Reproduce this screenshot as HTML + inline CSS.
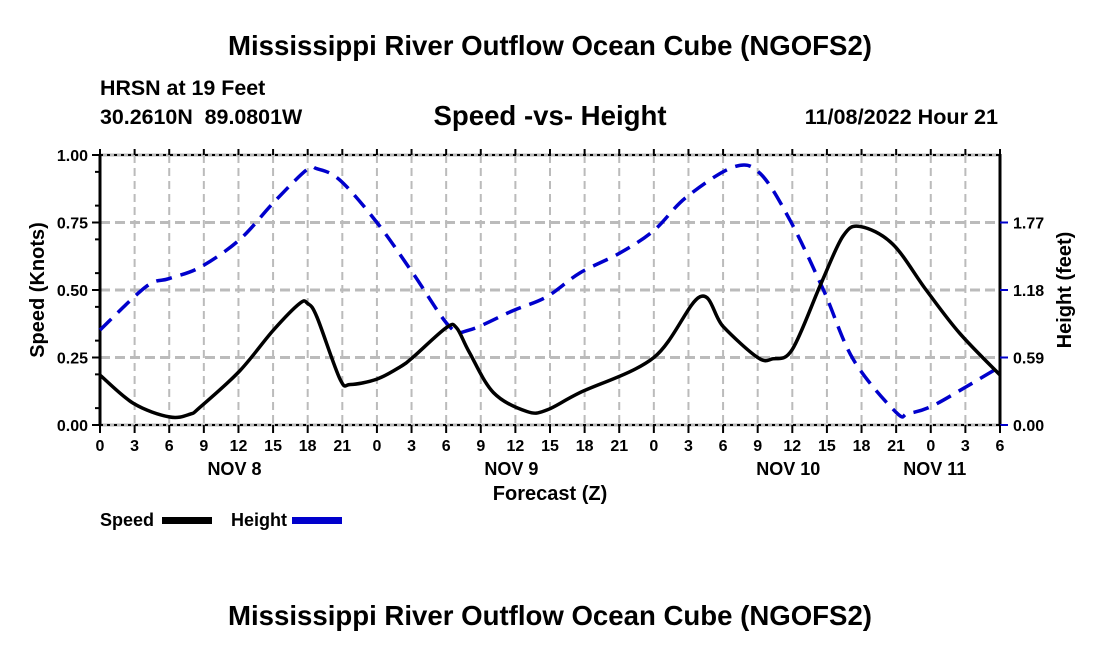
<!DOCTYPE html>
<html><head><meta charset="utf-8"><style>
body{margin:0;background:#fff;}
svg{display:block;font-family:"Liberation Sans",Arial,sans-serif;}
</style></head><body>
<svg id="c" width="1100" height="650" viewBox="0 0 1100 650">
<text x="550" y="55" text-anchor="middle" font-size="27.6" font-weight="bold">Mississippi River Outflow Ocean Cube (NGOFS2)</text>
<text x="100" y="95" font-size="21.4" font-weight="bold">HRSN at 19 Feet</text>
<text x="100" y="124" font-size="21.4" font-weight="bold" xml:space="preserve">30.2610N  89.0801W</text>
<text x="550" y="125" text-anchor="middle" font-size="27.6" font-weight="bold">Speed -vs- Height</text>
<text x="998" y="124" text-anchor="end" font-size="21.6" font-weight="bold">11/08/2022 Hour 21</text>
<g id="grid"></g>
<g id="axes"></g>
<g id="series"></g>
<text x="550" y="500" text-anchor="middle" font-size="20" font-weight="bold">Forecast (Z)</text>
<text transform="translate(44,290) rotate(-90)" text-anchor="middle" font-size="20" font-weight="bold">Speed (Knots)</text>
<text transform="translate(1071,290) rotate(-90)" text-anchor="middle" font-size="20" font-weight="bold">Height (feet)</text>
<g>
<text x="100" y="526" font-size="18" font-weight="bold">Speed</text>
<rect x="162" y="517" width="50" height="7" fill="#000"/>
</g>
<g>
<text x="231" y="526" font-size="18" font-weight="bold">Height</text>
<rect x="292" y="517" width="50" height="7" fill="#00c"/>
</g>
<text x="550" y="625" text-anchor="middle" font-size="27.6" font-weight="bold">Mississippi River Outflow Ocean Cube (NGOFS2)</text>
</svg>
<script>
const speedHours=[0,2.9,6,7.8,8.7,12.1,15,17.3,18,18.8,20.8,21.7,24,26,27.1,30,30.9,32,34.1,37,38.7,41.6,48,52,54,57,58.3,60,62.5,64.4,65.9,68.7,71.6,74.5,78];
const speedValues=[0.185,0.08,0.03,0.04,0.067,0.20,0.35,0.45,0.45,0.40,0.17,0.15,0.17,0.215,0.25,0.36,0.36,0.27,0.12,0.05,0.055,0.12,0.25,0.475,0.365,0.25,0.245,0.28,0.525,0.70,0.735,0.67,0.50,0.34,0.185];
const heightHours=[0,4,6,8.7,12.1,15,17.9,18.8,20.8,24,27.1,30.3,32,35.8,38.7,41.6,45,48,50.8,54.9,57.2,59.8,62.7,65.3,69,70,72,75,78];
const heightValues=[0.83,1.21,1.28,1.38,1.62,1.94,2.23,2.24,2.14,1.77,1.33,0.86,0.83,1.00,1.12,1.33,1.50,1.70,1.99,2.255,2.20,1.79,1.18,0.57,0.11,0.10,0.16,0.33,0.51];
const speedTicks=["0.00","0.25","0.50","0.75","1.00"];
const heightTicks=["0.00","0.59","1.18","1.77"];
const hourLabels=["0","3","6","9","12","15","18","21"];
const dayLabels=["NOV 8","NOV 9","NOV 10","NOV 11"];

const NS="http://www.w3.org/2000/svg";
const X0=100,X1=1000,Y0=425,Y1=155,HMAX=78,HFT=2.36;
const xs=h=>X0+(X1-X0)*h/HMAX;
const ys=v=>Y0-(Y0-Y1)*v;
const yh=f=>Y0-(Y0-Y1)*f/HFT;
function mk(tag,attrs,parent){const e=document.createElementNS(NS,tag);for(const k in attrs)e.setAttribute(k,attrs[k]);parent.appendChild(e);return e;}
const grid=document.getElementById('grid'),axes=document.getElementById('axes'),ser=document.getElementById('series');
for(let h=3;h<HMAX;h+=3){
  const l=mk('line',{x1:xs(h),y1:Y1,x2:xs(h),y2:Y0,stroke:'#bbb','stroke-width':2,'stroke-dasharray':'8 5'},grid);
  
  
}
speedTicks.forEach(t=>{const v=parseFloat(t);if(v>0&&v<1){
  const l=mk('line',{x1:X0,y1:ys(v),x2:X1,y2:ys(v),stroke:'#bbb','stroke-width':3,'stroke-dasharray':'10 5'},grid);
  
  
}});
mk('line',{x1:X0,y1:Y1,x2:X1,y2:Y1,stroke:'#bbb','stroke-width':3},axes);
mk('line',{x1:X0,y1:Y0,x2:X1,y2:Y0,stroke:'#bbb','stroke-width':3},axes);
mk('line',{x1:X0,y1:Y1,x2:X1,y2:Y1,stroke:'#000','stroke-width':2,'stroke-dasharray':'3 4'},axes);
mk('line',{x1:X0,y1:Y0,x2:X1,y2:Y0,stroke:'#000','stroke-width':2,'stroke-dasharray':'3 4'},axes);
mk('line',{x1:X0,y1:Y1-1,x2:X0,y2:Y0+1,stroke:'#000','stroke-width':3},axes);
mk('line',{x1:X1,y1:Y1-1,x2:X1,y2:Y0+1,stroke:'#000','stroke-width':3},axes);
speedTicks.forEach(t=>{const v=parseFloat(t);
  mk('line',{x1:X0-8,y1:ys(v),x2:X0,y2:ys(v),stroke:'#000','stroke-width':2},axes);
  const tx=mk('text',{x:X0-12,y:ys(v)+6,'text-anchor':'end','font-size':16,'font-weight':'bold'},axes);tx.textContent=t;
  
  
});
for(let v=0.0625;v<1;v+=0.125){mk('line',{x1:X0-5,y1:ys(v),x2:X0,y2:ys(v),stroke:'#000','stroke-width':2},axes);}
heightTicks.forEach(t=>{const f=parseFloat(t);
  mk('line',{x1:X1,y1:yh(f),x2:X1+8,y2:yh(f),stroke:'#00c','stroke-width':2},axes);
  const tx=mk('text',{x:X1+13,y:yh(f)+6,'font-size':16,'font-weight':'bold'},axes);tx.textContent=t;
  
  
});
for(let h=0;h<=HMAX;h+=3){
  mk('line',{x1:xs(h),y1:Y0,x2:xs(h),y2:Y0+8,stroke:'#000','stroke-width':2},axes);
  mk('line',{x1:xs(h),y1:Y1,x2:xs(h),y2:Y1-6,stroke:'#000','stroke-width':2},axes);
  const tx=mk('text',{x:xs(h),y:451,'text-anchor':'middle','font-size':16,'font-weight':'bold'},axes);tx.textContent=hourLabels[(h%24)/3];
  
  
}
dayLabels.forEach((d,i)=>{
  const tx=mk('text',{x:(i===3?xs(72)+4:xs(i*24+12)-4),y:475,'text-anchor':'middle','font-size':18,'font-weight':'bold'},axes);
  tx.textContent=d;
  
  
});
function path(px,py){
  let d=`M${px[0]},${py[0]}`;
  for(let i=0;i<px.length-1;i++){
    const p0=i>0?i-1:i,p3=i+2<px.length?i+2:i+1;
    const c1x=px[i]+(px[i+1]-px[p0])/6,c1y=py[i]+(py[i+1]-py[p0])/6;
    const c2x=px[i+1]-(px[p3]-px[i])/6,c2y=py[i+1]-(py[p3]-py[i])/6;
    d+=` C${c1x},${c1y} ${c2x},${c2y} ${px[i+1]},${py[i+1]}`;
  }
  return d;
}
const hp=mk('path',{d:path(heightHours.map(xs),heightValues.map(yh)),fill:'none',stroke:'#00c','stroke-width':3.5,'stroke-dasharray':'16 9'},ser);


const sp=mk('path',{d:path(speedHours.map(xs),speedValues.map(ys)),fill:'none',stroke:'#000','stroke-width':3.5},ser);


</script>
</body></html>
